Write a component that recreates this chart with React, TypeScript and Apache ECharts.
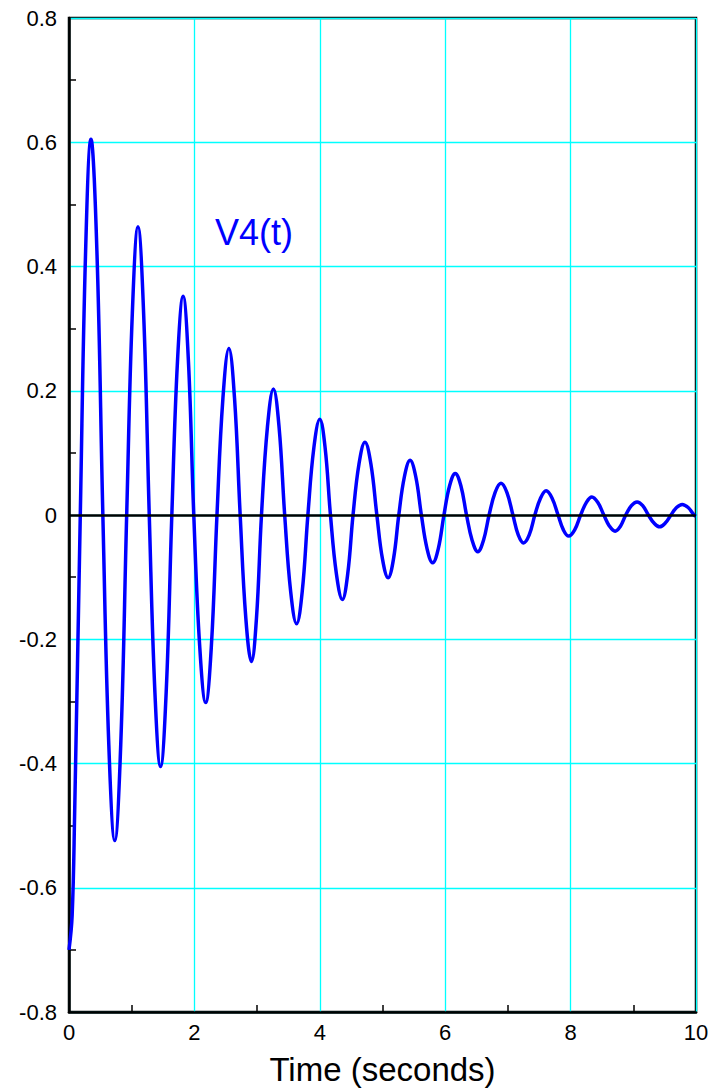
import React, { useEffect, useRef } from "react";
import * as echarts from "echarts";

// Time (s) of each read-off point (one row per half cycle: mid, extremum, mid, zero crossing)
const timeSec = [
  0.0, 0.05, 0.09, 0.18,
  0.265, 0.35, 0.445, 0.54,
  0.635, 0.73, 0.825, 0.92,
  1.01, 1.1, 1.19, 1.28,
  1.37, 1.46, 1.55, 1.64,
  1.73, 1.82, 1.905, 1.99,
  2.085, 2.18, 2.27, 2.36,
  2.455, 2.55, 2.64, 2.73,
  2.82, 2.91, 2.99, 3.07,
  3.165, 3.26, 3.35, 3.44,
  3.535, 3.63, 3.72, 3.81,
  3.905, 4.0, 4.085, 4.17,
  4.265, 4.36, 4.445, 4.53,
  4.625, 4.72, 4.815, 4.91,
  5.0, 5.09, 5.175, 5.26,
  5.35, 5.44, 5.53, 5.62,
  5.71, 5.8, 5.89, 5.98,
  6.07, 6.16, 6.25, 6.34,
  6.43, 6.52, 6.61, 6.7,
  6.795, 6.89, 6.985, 7.08,
  7.165, 7.25, 7.34, 7.43,
  7.52, 7.61, 7.705, 7.8,
  7.885, 7.97, 8.065, 8.16,
  8.25, 8.34, 8.435, 8.53,
  8.62, 8.71, 8.795, 8.88,
  8.97, 9.06, 9.15, 9.24,
  9.33, 9.42, 9.51, 9.6,
  9.69, 9.78, 9.875, 9.97,
  10.0,
];
// V4(t) value read at each time above
const v4Values = [
  -0.7, -0.645, -0.48, 0,
  0.425, 0.605, 0.425, 0,
  -0.37, -0.524, -0.37, 0,
  0.325, 0.464, 0.325, 0,
  -0.285, -0.405, -0.285, 0,
  0.247, 0.352, 0.247, 0,
  -0.212, -0.302, -0.212, 0,
  0.188, 0.268, 0.188, 0,
  -0.166, -0.236, -0.166, 0,
  0.142, 0.203, 0.142, 0,
  -0.123, -0.175, -0.123, 0,
  0.108, 0.154, 0.108, 0,
  -0.095, -0.136, -0.095, 0,
  0.082, 0.117, 0.082, 0,
  -0.071, -0.101, -0.071, 0,
  0.062, 0.088, 0.062, 0,
  -0.054, -0.077, -0.054, 0,
  0.047, 0.067, 0.047, 0,
  -0.041, -0.059, -0.041, 0,
  0.036, 0.051, 0.036, 0,
  -0.032, -0.045, -0.032, 0,
  0.027, 0.039, 0.027, 0,
  -0.024, -0.034, -0.024, 0,
  0.02, 0.029, 0.02, 0,
  -0.018, -0.026, -0.018, 0,
  0.015, 0.021, 0.015, 0,
  -0.013, -0.019, -0.013, 0,
  0.012, 0.017, 0.012, 0,
  -0.002,
];

const seriesLabel = "V4(t)";
const xAxisTitle = "Time (seconds)";

const FONT = "'Liberation Sans', Arial, Helvetica, sans-serif";

export default function App() {
  const ref = useRef<HTMLDivElement>(null);

  useEffect(() => {
    document.body.style.margin = "0";
    if (!ref.current) return;
    const chart = echarts.init(ref.current, undefined, { renderer: "svg" });
    const data = timeSec.map((t, i) => [t, v4Values[i]]);
    chart.setOption({
      animation: false,
      backgroundColor: "#ffffff",
      grid: {
        left: 69,
        right: 23,
        top: 18,
        bottom: 77,
        show: true,
        borderColor: "#000000",
        borderWidth: 2.5,
        backgroundColor: "transparent",
      },
      xAxis: {
        type: "value",
        min: 0,
        max: 10,
        interval: 2,
        name: xAxisTitle,
        nameLocation: "middle",
        nameGap: 41,
        nameTextStyle: { fontFamily: FONT, fontSize: 33, color: "#000" },
        axisLine: { show: true, onZero: false, lineStyle: { color: "#000", width: 2.5 } },
        axisTick: { show: false },
        minorTick: {
          show: true,
          splitNumber: 2,
          length: -7,
          lineStyle: { color: "#000", width: 1.5 },
        },
        axisLabel: { fontFamily: FONT, fontSize: 22, color: "#000", margin: 9 },
        splitLine: { show: true, lineStyle: { color: "#00ffff", width: 1.3 } },
        minorSplitLine: { show: false },
      },
      yAxis: {
        type: "value",
        min: -0.8,
        max: 0.8,
        interval: 0.2,
        axisLine: { show: true, lineStyle: { color: "#000", width: 2.5 } },
        axisTick: { show: false },
        minorTick: {
          show: true,
          splitNumber: 2,
          length: -7,
          lineStyle: { color: "#000", width: 1.5 },
        },
        axisLabel: {
          fontFamily: FONT,
          fontSize: 22,
          color: "#000",
          margin: 12,
          formatter: (v: number) => {
            const r = Math.round(v * 10) / 10;
            return r === 0 ? "0" : String(r);
          },
        },
        splitLine: { show: true, lineStyle: { color: "#00ffff", width: 1.3 } },
      },
      graphic: [
        {
          type: "text",
          left: 215,
          top: 214,
          style: {
            text: seriesLabel,
            fontFamily: FONT,
            fontSize: 36,
            fill: "#0000ff",
          },
        },
      ],
      series: [
        {
          type: "line",
          data,
          smooth: 0.4,
          showSymbol: false,
          symbol: "none",
          lineStyle: { color: "#0000ff", width: 3.5 },
          markLine: {
            silent: true,
            symbol: "none",
            label: { show: false },
            lineStyle: { color: "#000", width: 2.5, type: "solid" },
            data: [{ yAxis: 0 }],
          },
        },
      ],
    });
    return () => chart.dispose();
  }, []);

  return <div ref={ref} style={{ width: 719, height: 1091 }} />;
}
